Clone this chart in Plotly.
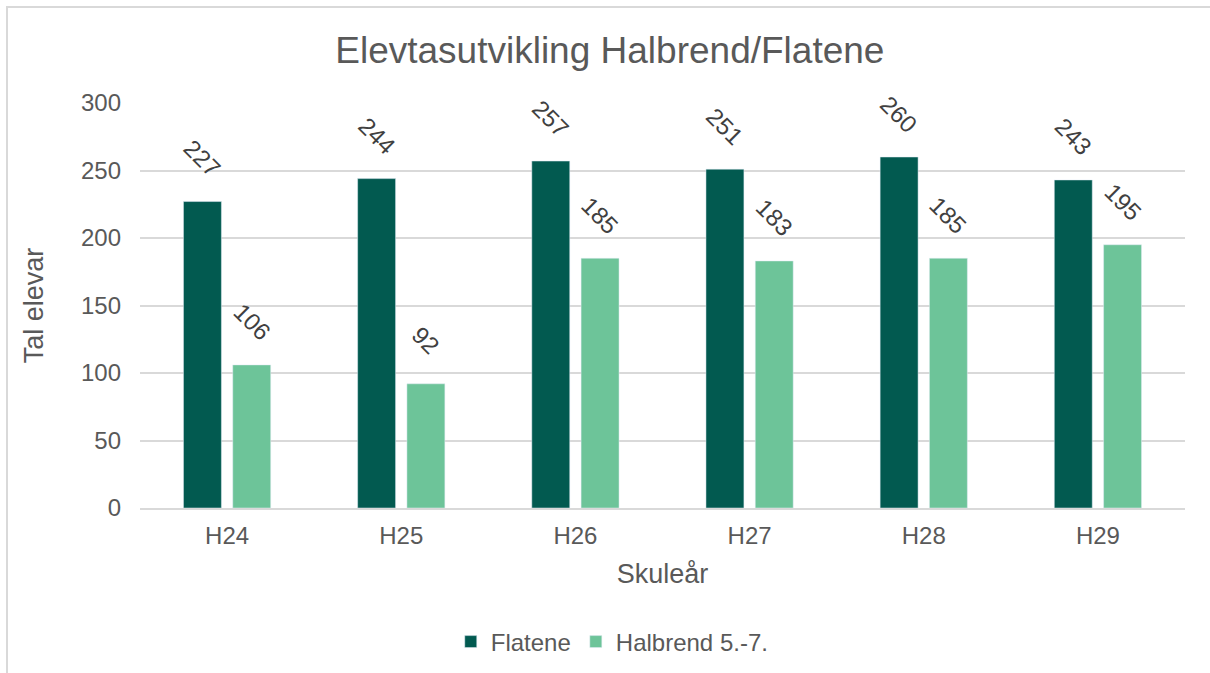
import plotly.graph_objects as go

categories = ["H24", "H25", "H26", "H27", "H28", "H29"]
flatene = [227, 244, 257, 251, 260, 243]
halbrend = [106, 92, 185, 183, 185, 195]
series_names = ["Flatene", "Halbrend 5.-7."]
y_ticks = [0, 50, 100, 150, 200, 250, 300]

DARK = "#025A50"
LIGHT = "#6DC499"
FONT = "Liberation Sans, Arial, sans-serif"
GRAY = "#595959"

fig = go.Figure()
fig.add_trace(go.Bar(x=categories, y=flatene, name=series_names[0], marker_color=DARK))
fig.add_trace(go.Bar(x=categories, y=halbrend, name=series_names[1], marker_color=LIGHT))

W, H = 1210, 673
L, R, T, B = 140, 25, 103, 165
plot_w = W - L - R
cat_w = plot_w / len(categories)
bargap = 0.434
slot = cat_w * (1 - bargap) / 2

annotations = []
for vals, off in ((flatene, -slot / 2), (halbrend, slot / 2)):
    for c, v in zip(categories, vals):
        annotations.append(dict(
            x=c, y=v, xref="x", yref="y", text=str(v), showarrow=False,
            textangle=45, xshift=off, yshift=43,
            font=dict(family=FONT, size=24, color="#404040"),
            xanchor="center", yanchor="middle"))

fig.update_layout(
    width=W, height=H,
    margin=dict(l=L, r=R, t=T, b=B),
    paper_bgcolor="white", plot_bgcolor="white",
    barmode="group", bargap=bargap, bargroupgap=0.23,
    font=dict(family=FONT, size=24, color=GRAY),
    title=dict(text="Elevtasutvikling Halbrend/Flatene", x=0.504, xref="container",
               y=1 - 50 / H, yref="container", xanchor="center", yanchor="middle",
               font=dict(family=FONT, size=37, color=GRAY)),
    legend=dict(orientation="h", x=0.506, xref="container", xanchor="center",
                y=1 - 642 / H, yref="container", yanchor="middle",
                font=dict(family=FONT, size=24, color=GRAY), itemwidth=30),
    annotations=annotations,
    shapes=[dict(type="rect", xref="paper", yref="paper",
                 x0=(7 - L) / plot_w, x1=1.2, y0=-0.6, y1=(H - B - 7) / (H - T - B),
                 line=dict(color="#D9D9D9", width=2), fillcolor="rgba(0,0,0,0)", layer="below")],
)
fig.update_yaxes(range=[0, 300], tickvals=y_ticks, showgrid=True, gridcolor="#D9D9D9",
                 gridwidth=1.5, zeroline=False, showline=False, ticks="",
                 ticklabelstandoff=18, tickfont=dict(size=24, color=GRAY),
                 title=dict(text="Tal elevar", font=dict(size=27, color=GRAY), standoff=29))
fig.update_xaxes(showline=True, linecolor="#D9D9D9", linewidth=1.5, ticks="",
                 ticklabelstandoff=5, tickfont=dict(size=24, color=GRAY),
                 title=dict(text="Skuleår", font=dict(size=27, color=GRAY), standoff=17))

fig.write_html("out.html", config={"displayModeBar": False},
               post_script="document.body.style.margin='0';document.body.style.overflow='hidden';")
